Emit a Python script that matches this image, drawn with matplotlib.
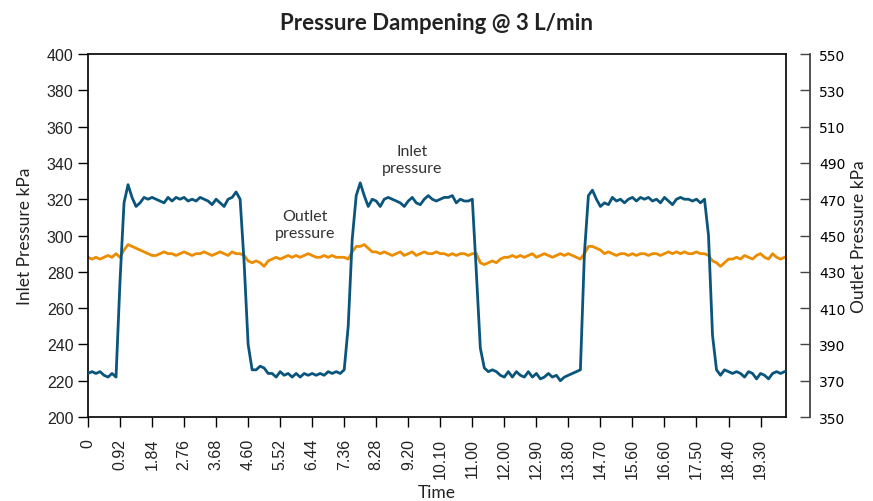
import numpy as np
import matplotlib
matplotlib.use("Agg")
import matplotlib.pyplot as plt

# --- data (one sample every 0.115 s) ---
SAMPLE_STEP = 0.115

inlet_kpa = [
    224, 225, 224, 225, 223, 222, 224, 222, 275, 318,
    328, 321, 316, 318, 321, 320, 321, 320, 319, 318,
    321, 319, 321, 320, 321, 319, 320, 319, 321, 320,
    319, 317, 320, 318, 316, 320, 321, 324, 320, 285,
    240, 226, 226, 228, 227, 224, 224, 222, 225, 223,
    224, 222, 224, 222, 224, 223, 224, 223, 224, 223,
    225, 224, 225, 224, 226, 250, 298, 322, 329, 322,
    316, 320, 319, 316, 320, 321, 320, 319, 318, 316,
    319, 321, 318, 317, 320, 322, 320, 319, 320, 321,
    321, 322, 318, 320, 319, 319, 320, 280, 238, 227,
    225, 226, 225, 223, 222, 225, 222, 225, 223, 222,
    225, 222, 224, 221, 222, 224, 222, 223, 220, 222,
    223, 224, 225, 226, 290, 322, 325, 320, 316, 318,
    317, 321, 319, 320, 318, 320, 321, 319, 321, 320,
    321, 319, 320, 318, 321, 319, 317, 320, 321, 320,
    320, 319, 320, 318, 320, 300, 245, 226, 223, 226,
    225, 224, 225, 224, 222, 225, 224, 221, 224, 223,
    221, 224, 225, 224, 225,
]

outlet_kpa = [
    438, 437, 438, 437, 438, 439, 438, 440, 438, 442,
    445, 444, 443, 442, 441, 440, 439, 439, 440, 441,
    440, 440, 439, 440, 441, 440, 439, 440, 440, 441,
    440, 439, 440, 441, 440, 439, 441, 440, 440, 439,
    436, 435, 436, 435, 433, 436, 437, 438, 437, 438,
    439, 438, 439, 438, 439, 440, 439, 438, 438, 439,
    438, 439, 438, 438, 438, 437, 441, 444, 444, 445,
    443, 441, 441, 440, 441, 440, 439, 440, 441, 439,
    440, 441, 439, 440, 441, 440, 440, 441, 440, 440,
    439, 440, 439, 440, 440, 439, 440, 440, 435, 434,
    435, 436, 435, 437, 438, 438, 439, 438, 439, 438,
    439, 440, 438, 439, 440, 439, 438, 439, 440, 439,
    440, 439, 438, 437, 440, 444, 444, 443, 442, 440,
    441, 440, 439, 440, 440, 439, 440, 439, 440, 440,
    439, 440, 440, 439, 440, 441, 440, 441, 440, 441,
    440, 440, 441, 440, 440, 439, 436, 435, 433, 435,
    437, 437, 438, 437, 439, 438, 437, 439, 440, 438,
    437, 440, 438, 437, 438,
]

tick_labels = ["0", "0.92", "1.84", "2.76", "3.68", "4.60", "5.52", "6.44",
               "7.36", "8.28", "9.20", "10.10", "11.00", "12.00", "12.90",
               "13.80", "14.70", "15.60", "16.60", "17.50", "18.40", "19.30"]

time_s = np.arange(len(inlet_kpa)) * SAMPLE_STEP

INLET_COLOR = "#0b557c"
OUTLET_COLOR = "#ec8c00"
LABEL_FONT = ["Lato", "DejaVu Sans"]
TICK_FONT = ["Liberation Sans", "DejaVu Sans"]

fig = plt.figure(figsize=(8.73, 5.02), dpi=100)
ax = fig.add_axes([0.1008, 0.1673, 0.7995, 0.7231])
ax2 = ax.twinx()

ax.plot(time_s, inlet_kpa, color=INLET_COLOR, lw=2.0, zorder=3)
ax2.plot(time_s, outlet_kpa, color=OUTLET_COLOR, lw=2.0)
ax.set_zorder(ax2.get_zorder() + 1)
ax.patch.set_visible(False)

ax.set_xlim(0, 20.05)
ax.set_ylim(200, 400)
ax2.set_ylim(350, 550)
ax.set_yticks(np.arange(200, 401, 20))
ax2.set_yticks(np.arange(350, 551, 20))
ax.set_xticks(time_s[::8])
ax.set_xticklabels(tick_labels, rotation=90)

for lab in ax.get_xticklabels() + ax.get_yticklabels() + ax2.get_yticklabels():
    lab.set_family(TICK_FONT)
    lab.set_fontsize(11.5)
    lab.set_color("#222222")

ax.tick_params(axis="both", direction="out", length=7, width=1)
ax.tick_params(axis="x", pad=8)
ax2.tick_params(axis="y", direction="in", length=7, width=1, color="#444444", pad=7)

for s in ax.spines.values():
    s.set_linewidth(1.3)
    s.set_color("#111111")
for name in ("top", "bottom", "left"):
    ax2.spines[name].set_visible(False)
ax2.spines["right"].set_position(("outward", 17))
ax2.spines["right"].set_color("#444444")
ax2.spines["right"].set_linewidth(1.3)

ax.set_ylabel("Inlet Pressure kPa", family=LABEL_FONT, fontsize=12.5, color="#222222",
              labelpad=10)
ax2.set_ylabel("Outlet Pressure kPa", family=LABEL_FONT, fontsize=12.5, color="#222222")
ax.set_xlabel("Time", family=LABEL_FONT, fontsize=12.5, color="#222222", labelpad=4)
ax.set_title("Pressure Dampening @ 3 L/min", family=LABEL_FONT, fontsize=16,
             fontweight="bold", color="#222222", pad=18)

ax.text(6.24, 306, "Outlet\npressure", family=LABEL_FONT, fontsize=11.5,
        color="#333333", ha="center", va="center", linespacing=1.3)
ax.text(9.32, 342, "Inlet\npressure", family=LABEL_FONT, fontsize=11.5,
        color="#333333", ha="center", va="center", linespacing=1.3)

fig.savefig("out.png", dpi=100)
